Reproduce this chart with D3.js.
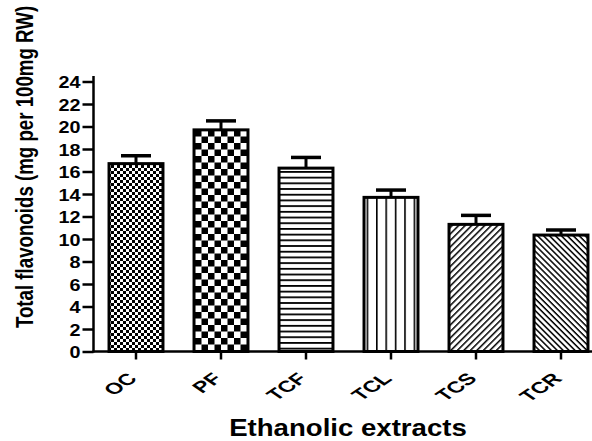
<!DOCTYPE html>
<html>
<head>
<meta charset="utf-8">
<script src="https://cdn.jsdelivr.net/npm/d3@7"></script>
<style>
  body { margin: 0; background: #fff; }
  svg text { font-family: Arial, "Liberation Sans", sans-serif; font-weight: bold; fill: #000; }
</style>
</head>
<body>
<svg width="592" height="441"></svg>
<script>
// data
var categories = ['OC', 'PF', 'TCF', 'TCL', 'TCS', 'TCR'];
var means = [16.7, 19.7, 16.3, 13.7, 11.3, 10.35];
var errors = [0.7, 0.8, 0.95, 0.65, 0.8, 0.45];
var yTicks = [0, 2, 4, 6, 8, 10, 12, 14, 16, 18, 20, 22, 24];
var fills = ['checkFine', 'checkCoarse', 'hLines', 'vLines', 'diagUp', 'diagDown'];

var svg = d3.select('svg');
var axisX = 93.5,
    zeroY = 351.5,
    stretch = 1.2; // the original figure's text is wider than tall

var x = d3.scaleBand()
    .domain(categories)
    .range([axisX, axisX + 510])
    .paddingInner(0.33)
    .paddingOuter(0.165);

var y = d3.scaleLinear()
    .domain([0, 24])
    .range([zeroY, 81.5]);

// fill patterns
var defs = svg.append('defs');

var p = defs.append('pattern').attr('id', 'checkFine')
    .attr('patternUnits', 'userSpaceOnUse').attr('width', 6).attr('height', 6);
p.append('rect').attr('width', 6).attr('height', 6).attr('fill', '#fff');
p.append('rect').attr('width', 3).attr('height', 3).attr('fill', '#000');
p.append('rect').attr('x', 3).attr('y', 3).attr('width', 3).attr('height', 3).attr('fill', '#000');

p = defs.append('pattern').attr('id', 'checkCoarse')
    .attr('patternUnits', 'userSpaceOnUse').attr('width', 13).attr('height', 13);
p.append('rect').attr('width', 13).attr('height', 13).attr('fill', '#fff');
p.append('rect').attr('width', 6.5).attr('height', 6.5).attr('fill', '#000');
p.append('rect').attr('x', 6.5).attr('y', 6.5).attr('width', 6.5).attr('height', 6.5).attr('fill', '#000');

p = defs.append('pattern').attr('id', 'hLines')
    .attr('patternUnits', 'userSpaceOnUse').attr('width', 10).attr('height', 5.7);
p.append('rect').attr('width', 10).attr('height', 5.7).attr('fill', '#fff');
p.append('rect').attr('y', 0).attr('width', 10).attr('height', 1.8).attr('fill', '#000');

p = defs.append('pattern').attr('id', 'vLines')
    .attr('patternUnits', 'userSpaceOnUse').attr('width', 9.4).attr('height', 10);
p.append('rect').attr('width', 9.4).attr('height', 10).attr('fill', '#fff');
p.append('rect').attr('x', 0).attr('width', 1.6).attr('height', 10).attr('fill', '#000');

p = defs.append('pattern').attr('id', 'diagUp')
    .attr('patternUnits', 'userSpaceOnUse').attr('width', 10).attr('height', 4.6)
    .attr('patternTransform', 'rotate(-45)');
p.append('rect').attr('width', 10).attr('height', 4.6).attr('fill', '#fff');
p.append('rect').attr('width', 10).attr('height', 1.5).attr('fill', '#000');

p = defs.append('pattern').attr('id', 'diagDown')
    .attr('patternUnits', 'userSpaceOnUse').attr('width', 10).attr('height', 4.2)
    .attr('patternTransform', 'rotate(45)');
p.append('rect').attr('width', 10).attr('height', 4.2).attr('fill', '#fff');
p.append('rect').attr('width', 10).attr('height', 1.5).attr('fill', '#000');

// error bars (drawn first so the bar outline sits on top)
var err = svg.append('g').selectAll('g').data(categories).enter().append('g');
err.append('line')
    .attr('x1', function(d) { return x(d) + x.bandwidth() / 2; })
    .attr('x2', function(d) { return x(d) + x.bandwidth() / 2; })
    .attr('y1', function(d, i) { return y(means[i]); })
    .attr('y2', function(d, i) { return y(means[i] + errors[i]); })
    .attr('stroke', '#000').attr('stroke-width', 3);
err.append('line')
    .attr('x1', function(d) { return x(d) + x.bandwidth() / 2 - 15; })
    .attr('x2', function(d) { return x(d) + x.bandwidth() / 2 + 15; })
    .attr('y1', function(d, i) { return y(means[i] + errors[i]); })
    .attr('y2', function(d, i) { return y(means[i] + errors[i]); })
    .attr('stroke', '#000').attr('stroke-width', 3.5);

// bars
svg.append('g').selectAll('rect').data(categories).enter().append('rect')
    .attr('x', function(d) { return x(d) + 1.5; })
    .attr('width', x.bandwidth() - 3)
    .attr('y', function(d, i) { return y(means[i]); })
    .attr('height', function(d, i) { return zeroY - y(means[i]); })
    .attr('fill', function(d, i) { return 'url(#' + fills[i] + ')'; })
    .attr('stroke', '#000')
    .attr('stroke-width', 3);

// y axis
var yAxis = svg.append('g')
    .attr('transform', 'translate(' + axisX + ',0)')
    .call(d3.axisLeft(y).tickValues(yTicks).tickSize(11));
yAxis.select('.domain').attr('stroke-width', 2.5).attr('d', 'M0,' + (zeroY + 1) + 'V' + 76);
yAxis.selectAll('.tick line').attr('stroke-width', 2.5);
yAxis.selectAll('.tick text')
    .style('font-size', '16.5px')
    .attr('x', null)
    .attr('dy', null)
    .attr('transform', 'translate(-13,6) scale(' + stretch + ',1)');

// x axis
var xAxis = svg.append('g')
    .attr('transform', 'translate(0,' + zeroY + ')')
    .call(d3.axisBottom(x).tickSize(8).tickSizeOuter(0));
xAxis.select('.domain').attr('stroke-width', 2.5).attr('d', 'M' + (axisX - 1) + ',0H592');
xAxis.selectAll('.tick line').attr('stroke-width', 2.5);
xAxis.selectAll('.tick text')
    .style('font-size', '16px')
    .attr('text-anchor', 'end')
    .attr('dy', null)
    .attr('y', 0)
    .attr('transform', 'translate(2,28) scale(1.45,1) rotate(-45)');

// titles
svg.append('text')
    .attr('transform', 'translate(348,436) scale(' + stretch + ',1)')
    .attr('text-anchor', 'middle')
    .style('font-size', '23px')
    .text('Ethanolic extracts');

svg.append('text')
    .attr('transform', 'translate(33,167) scale(1.3,1) rotate(-90)')
    .attr('text-anchor', 'middle')
    .style('font-size', '18.7px')
    .text('Total flavonoids (mg per 100mg RW)');
</script>
</body>
</html>
